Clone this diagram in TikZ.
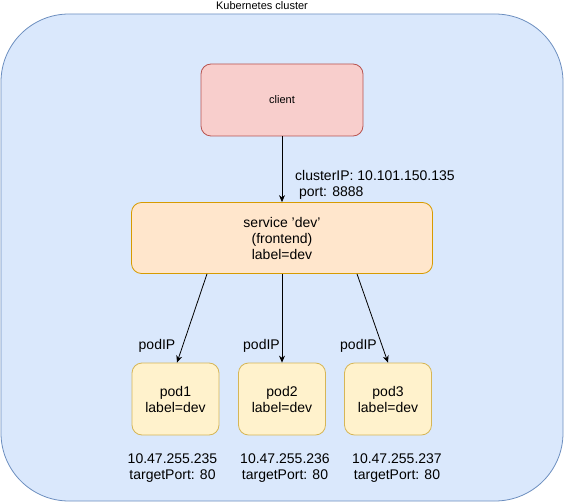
\documentclass[tikz,border=0pt]{standalone}
\usepackage{fontspec}
\setmainfont{Liberation Sans}
\usetikzlibrary{arrows.meta}
\definecolor{clusterfill}{HTML}{DAE8FC}
\definecolor{clusterline}{HTML}{6C8EBF}
\definecolor{clientfill}{HTML}{F8CECC}
\definecolor{clientline}{HTML}{B85450}
\definecolor{servicefill}{HTML}{FFE6CC}
\definecolor{serviceline}{HTML}{D79B00}
\definecolor{podfill}{HTML}{FFF2CC}
\definecolor{podline}{HTML}{D6B656}
\tikzset{
  box/.style={rounded corners=10pt, inner sep=0pt, align=center, line width=0.8pt,
    font=\fontsize{14}{16}\selectfont},
  podbox/.style={box, draw=podline, fill=podfill,
    minimum width=87pt, minimum height=72pt},
  note/.style={inner sep=0pt, align=center, font=\fontsize{14}{16}\selectfont},
  link/.style={-{Stealth[length=7pt,width=6pt]}, black, line width=0.8pt}
}
\begin{document}
\begin{tikzpicture}[x=1pt, y=-1pt]
  \useasboundingbox (0,0) rectangle (564,502);
  % Cluster
  \draw[clusterline, fill=clusterfill, rounded corners=68pt, line width=0.8pt]
    (1,14) rectangle (563,501);
  \node[note, font=\fontsize{11}{13}\selectfont] (title) at (262,6) {Kubernetes cluster};
  % Boxes
  \node[box, draw=clientline, fill=clientfill, minimum width=162pt,
    minimum height=72pt, font=\fontsize{11}{13}\selectfont] (client) at (282,100) {client};
  \node[box, draw=serviceline, fill=servicefill, minimum width=301pt,
    minimum height=71pt] (service) at (282,238) {service 'dev'\\(frontend)\\label=dev};
  \foreach \i/\x in {1/175.5, 2/282, 3/388}
    \node[podbox] (pod\i) at (\x,399) {pod\i\\label=dev};
  % Connectors
  \draw[link] (client) -- (service);
  \draw[link] ([xshift=-75pt]service.south) -- ([xshift=1.5pt]pod1.north);
  \draw[link] (service) -- (pod2);
  \draw[link] ([xshift=75pt]service.south) -- (pod3.north);
  % Annotations
  \node[note, align=left, anchor=west] (cip) at (295,184.5)
    {clusterIP: 10.101.150.135\\\ port: 8888};
  \node[note] (ip1) at (157,346) {podIP};
  \node[note] (ip2) at (261.5,346) {podIP};
  \node[note] (ip3) at (358.5,346) {podIP};
  \foreach \i/\x in {1/172.5, 2/285, 3/397}
    \node[note] (tp\i) at (\x,468) {10.47.255.23\the\numexpr\i+4\relax\\targetPort: 80};
\end{tikzpicture}
\end{document}
